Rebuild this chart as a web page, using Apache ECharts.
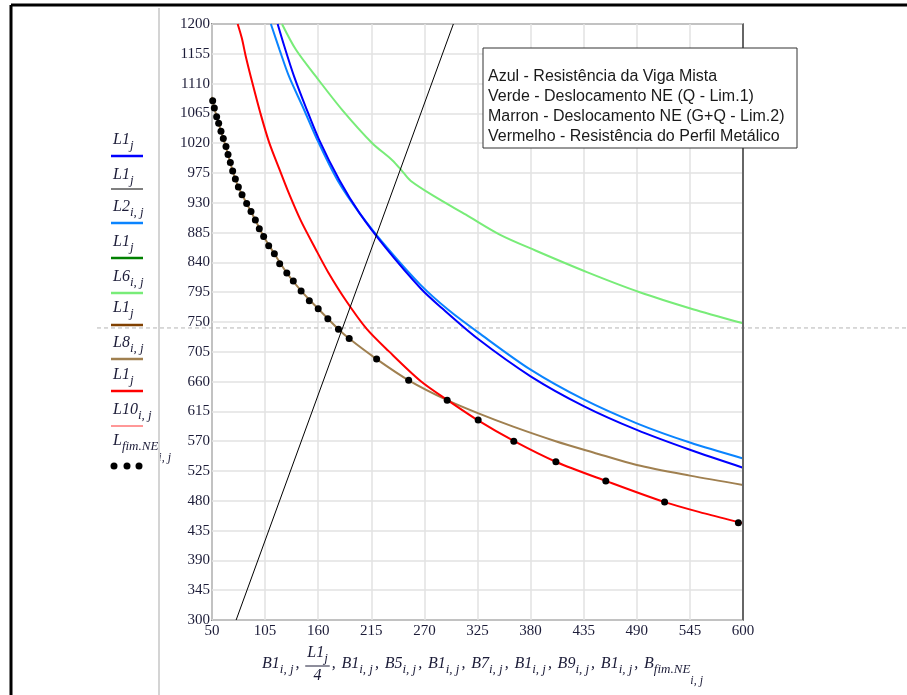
<!DOCTYPE html>
<html><head><meta charset="utf-8">
<script src="https://cdn.jsdelivr.net/npm/echarts@6/dist/echarts.min.js"></script>
<style>html,body{margin:0;padding:0;background:#fff}#c{width:907px;height:695px}</style>
</head><body><div id="c"></div>
<script>
// ---- axis ticks ----
const xTickMin = 50, xTickMax = 600, xTickStep = 55;
const yTickMin = 300, yTickMax = 1200, yTickStep = 45;
const marcadorY = 741;

// ---- series values [B, L] ----
const azulL1 = [[118,1200],[125,1166],[135,1121],[147,1075],[161,1025],[182,964],[203,914],[230,862],[266,801],[288,771],[325,725],[380,668],[435,623],[490,587],[545,557],[600,530]];
const retaL1_4 = [[75,300],[300,1200]];
const azulClaroL2 = [[111,1200],[120,1161],[130,1120],[144,1075],[159,1025],[180,964],[203,914],[232,861],[266,806],[295,768],[325,735],[380,678],[435,633],[490,597],[545,568],[600,544]];
const verdeL6 = [[122.5,1200],[137,1161],[158,1120],[185,1070],[216,1020],[237,994],[248,976],[256,963],[280,940],[313,912],[348,882],[385,858],[439,825],[493,795],[549,769],[600,748]];
const marromL8 = [[50,1090],[52.4,1073],[56.9,1050],[61.7,1027],[66.6,1003],[71.4,978],[77.3,954],[85.9,929],[94.9,904],[103.5,879],[114.6,853],[127.5,824],[142.3,797],[160,770],[181,739],[192,725],[220.5,694],[253.7,662],[293.6,632],[326,612],[362,592],[406,570],[445,553],[490,534],[545,518],[600,504]];
const vermelhoL10 = [[76.6,1200],[81,1178],[85,1151],[92,1110],[100,1066],[109,1022],[120,980],[130,943],[142,903],[157,861],[170,826],[188,784],[210,740],[233,706],[266,661],[294,632],[326,601],[363,570],[406,539],[458,510],[519,478],[560,461],[600,446]];
const fimNE = [[50.7,1084],[52.4,1073],[54.8,1060],[56.9,1050],[59.3,1038],[61.7,1027],[64.5,1015],[66.6,1003],[69.0,991],[71.4,978],[74.2,966],[77.3,954],[81.1,942],[85.9,929],[90.4,917],[94.9,904],[99.0,891],[103.5,879],[108.7,865],[114.6,853],[120.1,838],[127.5,824],[134.2,812],[142.3,797],[150.8,782],[160.0,770],[170.0,755],[181.0,739],[192.1,725],[220.5,694],[253.7,662],[293.6,632],[325.7,602],[362.6,570],[406.2,539],[457.9,510],[518.8,478],[595.2,447]];

// ---- texts ----
const notaLinhas = ['Azul - Resistência da Viga Mista','Verde - Deslocamento NE (Q - Lim.1)','Marron - Deslocamento NE (G+Q - Lim.2)','Vermelho - Resistência do Perfil Metálico'];

const SERIF = '"Liberation Serif", "Times New Roman", serif';
const SANS = '"Liberation Sans", Arial, sans-serif';
const TXT = '#1c1c38';
const mctx = document.createElement('canvas').getContext('2d');
function tw(t, size, style, fam){ mctx.font = (style||'italic') + ' ' + size + 'px ' + (fam||SERIF); return mctx.measureText(t).width; }

const LV = [{size:16, dy:0},{size:13, dy:6},{size:12, dy:17}];
function mathWidth(tokens){
  let w = 0;
  for (const tk of tokens){
    if (tk.frac){ w += Math.max(mathWidth(tk.frac[0]), mathWidth(tk.frac[1])) + 4; }
    else if (tk.gap !== undefined){ w += tk.gap; }
    else { w += tw(tk[0], LV[tk[1]].size); }
  }
  return w;
}
function mathEls(tokens, x, cy, color){
  const els = []; let cx = x;
  for (const tk of tokens){
    if (tk.frac){
      const wn = mathWidth(tk.frac[0]), wd = mathWidth(tk.frac[1]);
      const w = Math.max(wn, wd) + 4;
      els.push(...mathEls(tk.frac[0], cx + (w - wn)/2, cy - 11, color));
      els.push(...mathEls(tk.frac[1], cx + (w - wd)/2, cy + 12, color));
      els.push({type:'line', silent:true, shape:{x1:cx, y1:cy+2, x2:cx+w, y2:cy+2}, style:{stroke:color, lineWidth:1}});
      cx += w;
    } else if (tk.gap !== undefined){
      const t = tk.text || '';
      if (t) els.push({type:'text', silent:true, x:cx + 2, y:cy, style:{text:t, fontStyle:'italic', fontSize:16, fontFamily:SERIF, fill:color, verticalAlign:'middle', align:'left'}});
      cx += tk.gap;
    } else {
      const s = LV[tk[1]];
      els.push({type:'text', silent:true, x:cx, y:cy + s.dy, style:{text:tk[0], fontStyle:'italic', fontSize:s.size, fontFamily:SERIF, fill:color, verticalAlign:'middle', align:'left'}});
      cx += tw(tk[0], s.size);
    }
  }
  return els;
}

const chart = echarts.init(document.getElementById('c'), null, {renderer:'canvas', width:907, height:695});

function lineS(name, data, color, width, z){
  return {name, type:'line', data, showSymbol:false, smooth:0.3, z:z||2,
    lineStyle:{color, width}, itemStyle:{color}, animation:false, clip:true};
}

chart.setOption({
  animation:false,
  backgroundColor:'#ffffff',
  grid:{left:212, right:164, top:24, bottom:75, show:true, borderColor:'#333', borderWidth:1.5, backgroundColor:'transparent'},
  xAxis:{type:'value', min:xTickMin, max:xTickMax, interval:xTickStep,
    axisLine:{show:false}, axisTick:{show:false},
    axisLabel:{color:TXT, fontFamily:SERIF, fontSize:15, margin:4, showMinLabel:true, showMaxLabel:true, formatter:v => String(v)},
    splitLine:{show:true, lineStyle:{color:'#e2e2e2', width:1.5}}},
  yAxis:{type:'value', min:yTickMin, max:yTickMax, interval:yTickStep,
    axisLine:{show:false}, axisTick:{show:false},
    axisLabel:{color:TXT, fontFamily:SERIF, fontSize:15, margin:2, showMinLabel:true, showMaxLabel:true, formatter:v => String(v)},
    splitLine:{show:true, lineStyle:{color:'#e2e2e2', width:1.5}}},
  series:[
    lineS('L8', marromL8, '#a08050', 2, 2),
    lineS('L6', verdeL6, '#78ec78', 2, 2),
    lineS('L2', azulClaroL2, '#0a84ff', 2, 3),
    lineS('L1', azulL1, '#0000ff', 2, 3),
    lineS('L10', vermelhoL10, '#ff0000', 2, 4),
    {name:'L1/4', type:'line', data:retaL1_4, showSymbol:false, lineStyle:{color:'#000', width:1}, z:5, animation:false},
    {name:'fimNE', type:'scatter', data:fimNE, symbol:'circle', symbolSize:7, itemStyle:{color:'#000', opacity:1}, z:6, animation:false}
  ]
});

// ---- graphics ----
const G = [];
G.push({type:'line', silent:true, z:50, shape:{x1:11, y1:5, x2:907, y2:5}, style:{stroke:'#000', lineWidth:3}});
G.push({type:'line', silent:true, z:50, shape:{x1:11, y1:5, x2:11, y2:695}, style:{stroke:'#000', lineWidth:3}});
G.push({type:'line', silent:true, z:1, shape:{x1:159, y1:8, x2:159, y2:695}, style:{stroke:'#d4d4d4', lineWidth:2}});
const my = chart.convertToPixel({gridIndex:0}, [xTickMin, marcadorY])[1];
G.push({type:'line', silent:true, z:1, shape:{x1:97, y1:my, x2:907, y2:my}, style:{stroke:'#b4b4b4', lineWidth:1, lineDash:[4,3]}});
// right plot border (grey, slightly heavier)
const pr = chart.convertToPixel({gridIndex:0}, [xTickMax, yTickMin]);
const pt = chart.convertToPixel({gridIndex:0}, [xTickMax, yTickMax]);
G.push({type:'line', silent:true, z:10, shape:{x1:pr[0], y1:pt[1], x2:pr[0], y2:pr[1]}, style:{stroke:'#666', lineWidth:2}});

const J = [['L1',0],['j',1]];
const legend = [
  {tk:J, c:'#0000ff', w:2.5, ty:140, ly:156},
  {tk:J, c:'#000000', w:1, ty:175, ly:189},
  {tk:[['L2',0],['i, j',1]], c:'#0a84ff', w:2.5, ty:207, ly:223},
  {tk:J, c:'#008000', w:2.5, ty:242, ly:258},
  {tk:[['L6',0],['i, j',1]], c:'#78ec78', w:2.5, ty:277, ly:293},
  {tk:J, c:'#804000', w:2.5, ty:308, ly:325},
  {tk:[['L8',0],['i, j',1]], c:'#a08050', w:2.5, ty:343, ly:359},
  {tk:J, c:'#ff0000', w:2.5, ty:375, ly:391},
  {tk:[['L10',0],['i, j',1]], c:'#ff3030', w:1, ty:410, ly:426}
];
legend.forEach(e => {
  G.push(...mathEls(e.tk, 113, e.ty, TXT));
  G.push({type:'line', silent:true, shape:{x1:111, y1:e.ly, x2:143, y2:e.ly}, style:{stroke:e.c, lineWidth:e.w}});
});
G.push(...mathEls([['L',0],['fim.NE',1],['i, j',2]], 113, 441, TXT));
[114,127,139].forEach(x => G.push({type:'circle', silent:true, shape:{cx:x, cy:466, r:3.5}, style:{fill:'#000'}}));

const SUB = 'i, j';
const comma = () => ({gap:0, text:','});
const title = [['B1',0],[SUB,1],comma(),{frac:[[['L1',0],['j',1]],[['4',0]]]},comma(),
  ['B1',0],[SUB,1],comma(),['B5',0],[SUB,1],comma(),['B1',0],[SUB,1],comma(),['B7',0],[SUB,1],comma(),
  ['B1',0],[SUB,1],comma(),['B9',0],[SUB,1],comma(),['B1',0],[SUB,1],comma(),['B',0],['fim.NE',1],[SUB,2]];
const commas = title.filter(t => t.gap !== undefined);
const natural = mathWidth(title);
const target = 703 - 262;
commas.forEach(cm => cm.gap = Math.max(8, (target - natural) / commas.length));
G.push(...mathEls(title, 262, 664, TXT));

G.push({type:'rect', silent:true, z:60, shape:{x:483, y:48, width:314, height:100}, style:{fill:'#fff', stroke:'#333', lineWidth:1}});
const fsNote = Math.min(16, 15 * 235 / tw(notaLinhas[0], 15, 'normal', SANS));
notaLinhas.forEach((t,i) => G.push({type:'text', silent:true, z:61, x:488, y:77 + i*20,
  style:{text:t, fontFamily:SANS, fontSize:fsNote, fill:'#1a1a1a', verticalAlign:'middle', align:'left'}}));

chart.setOption({graphic:{elements:G}});
</script></body></html>
